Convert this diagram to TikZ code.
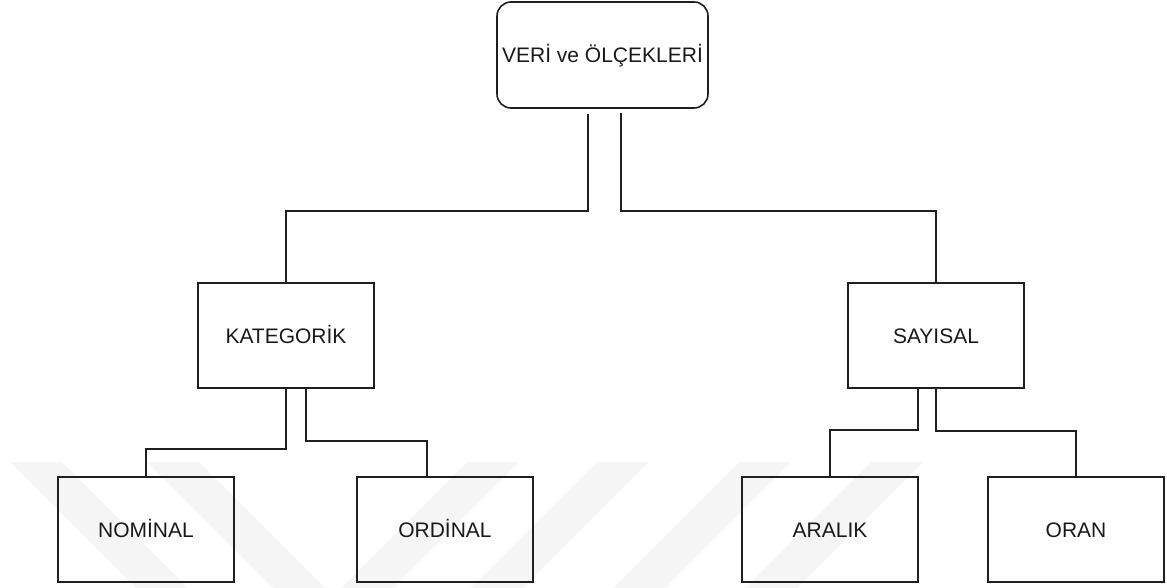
\documentclass[tikz,border=0pt]{standalone}
\usepackage{fontspec}
\setmainfont{Liberation Sans}
\usetikzlibrary{calc}
\begin{document}
\begin{tikzpicture}[x=1pt,y=-1pt,
  box/.style={draw=black!88, line width=1.6pt, minimum width=176pt,
    minimum height=105pt, inner sep=0pt, text height=15pt, text depth=0pt,
    font=\fontsize{21}{25}\selectfont, text=black!90},
  link/.style={draw=black!88, line width=1.6pt},
  stripe/.style={fill=black!4}]
\useasboundingbox (0,0) rectangle (1167,588);

% faint background chevrons
\foreach \a in {10,147}
  \fill[stripe] (\a,462) -- (\a+52,462) -- (\a+178,588) -- (\a+126,588) -- cycle;
\foreach \a in {467,597,739,871}
  \fill[stripe] (\a,462) -- (\a+52,462) -- (\a-74,588) -- (\a-126,588) -- cycle;

% boxes
\node[box, rounded corners=14pt, minimum width=211pt, minimum height=106pt]
  (root) at (602.5,55) {VERİ ve ÖLÇEKLERİ};
\node[box] (kat) at (286,335.5) {KATEGORİK};
\node[box] (say) at (936,335.5) {SAYISAL};
\node[box] (nom) at (146,529.5) {NOMİNAL};
\node[box] (ord) at (445,529.5) {ORDİNAL};
\node[box] (ara) at (830,529.5) {ARALIK};
\node[box] (ora) at (1076,529.5) {ORAN};

% connectors
\coordinate (r1) at ($(root.south)+(-14.5,5)$);
\coordinate (r2) at ($(root.south)+(18.5,4)$);
\draw[link] (r1) |- ([yshift=71pt]kat.north) -- (kat.north);
\draw[link] (r2) |- ([yshift=71pt]say.north) -- (say.north);
\draw[link] (kat.south) |- ([yshift=27pt]nom.north) -- (nom.north);
\draw[link] ([xshift=20pt]kat.south) |- ([xshift=-18pt,yshift=35pt]ord.north)
  -- ([xshift=-18pt]ord.north);
\draw[link] ([xshift=-18pt,yshift=1.5pt]say.south) |- ([yshift=46pt]ara.north)
  -- (ara.north);
\draw[link] (say.south) |- ([yshift=45pt]ora.north) -- (ora.north);
\end{tikzpicture}
\end{document}
